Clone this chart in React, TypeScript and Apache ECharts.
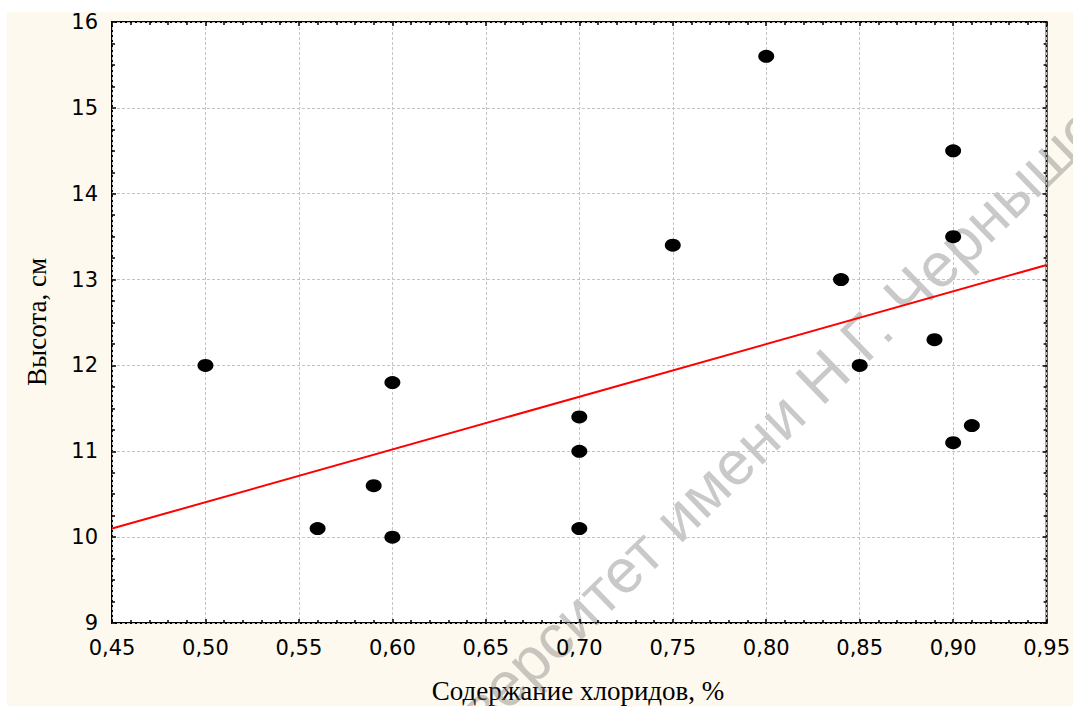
import React, { useEffect, useRef } from "react";
import * as echarts from "echarts";

const chlorides = [0.5, 0.56, 0.59, 0.6, 0.6, 0.7, 0.7, 0.7, 0.75, 0.8, 0.84, 0.85, 0.89, 0.9, 0.9, 0.9, 0.91];
const heights = [12.0, 10.1, 10.6, 11.8, 10.0, 11.4, 11.0, 10.1, 13.4, 15.6, 13.0, 12.0, 12.3, 14.5, 13.5, 11.1, 11.3];
const fitX = [0.45, 0.95];
const fitY = [10.1, 13.17];

const xTitle = "Содержание хлоридов, %";
const yTitle = "Высота, см";
const watermarkLeft = "университет ";
const watermarkRight = "имени Н.Г. Чернышевского";

export default function App() {
  const ref = useRef<HTMLDivElement>(null);
  useEffect(() => {
    if (!ref.current) return;
    const chart = echarts.init(ref.current, null, { renderer: "svg" });
    const tickFont = { fontFamily: "DejaVu Sans", fontSize: 21, color: "#000" };
    const xBase = {
      type: "value",
      min: 0.45,
      max: 0.95,
      interval: 0.05,
      axisLine: { show: false },
      axisTick: { show: true, inside: true, length: 4, lineStyle: { color: "#000", width: 1.5 } },
      minorTick: { show: true, splitNumber: 5, length: 3, lineStyle: { color: "#000", width: 1.5 } },
    };
    const yBase = {
      type: "value",
      min: 9,
      max: 16,
      interval: 1,
      axisLine: { show: false },
      axisTick: { show: true, inside: true, length: 4, lineStyle: { color: "#000", width: 1.5 } },
      minorTick: { show: true, splitNumber: 4, length: 3, lineStyle: { color: "#000", width: 1.5 } },
    };
    chart.setOption({
      animation: false,
      backgroundColor: "transparent",
      grid: {
        left: 112,
        top: 22,
        right: 23,
        bottom: 83,
        show: true,
        backgroundColor: "#fff",
        borderColor: "#000",
        borderWidth: 2,
      },
      xAxis: [
        {
          ...xBase,
          position: "bottom",
          axisLabel: {
            ...tickFont,
            margin: 14,
            formatter: (v: number) => v.toFixed(2).replace(".", ","),
          },
          splitLine: { show: true, lineStyle: { color: "#c4c4c4", type: [3, 2], width: 1 } },
        },
        {
          ...xBase,
          position: "top",
          axisLabel: { show: false },
          splitLine: { show: false },
        },
      ],
      yAxis: [
        {
          ...yBase,
          position: "left",
          axisLabel: { ...tickFont, margin: 14 },
          splitLine: { show: true, lineStyle: { color: "#c4c4c4", type: [3, 2], width: 1 } },
        },
        {
          ...yBase,
          position: "right",
          axisLabel: { show: false },
          splitLine: { show: false },
        },
      ],
      series: [
        {
          type: "line",
          data: fitX.map((x, i) => [x, fitY[i]]),
          symbol: "none",
          lineStyle: { color: "#ff0000", width: 2 },
          z: 2,
        },
        {
          type: "scatter",
          data: chlorides.map((x, i) => [x, heights[i]]),
          symbol: "circle",
          symbolSize: [16, 13],
          itemStyle: { color: "#000", opacity: 1 },
          z: 3,
        },
      ],
      graphic: [
        {
          type: "text",
          x: 578,
          y: 691,
          style: {
            text: xTitle,
            fontFamily: "Liberation Serif",
            fontSize: 27,
            fill: "#000",
            align: "center",
            verticalAlign: "middle",
          },
        },
        {
          type: "text",
          x: 37,
          y: 322,
          rotation: Math.PI / 2,
          style: {
            text: yTitle,
            fontFamily: "Liberation Serif",
            fontSize: 27,
            fill: "#000",
            align: "center",
            verticalAlign: "middle",
          },
        },
        {
          type: "group",
          x: 686,
          y: 552,
          rotation: 0.77,
          silent: true,
          z: 100,
          children: [
            {
              type: "text",
              x: 0,
              y: 0,
              style: {
                text: watermarkLeft,
                fontFamily: "Liberation Sans",
                fontSize: 62,
                fill: "rgba(120,120,120,0.4)",
                align: "right",
                verticalAlign: "bottom",
              },
            },
            {
              type: "text",
              x: 0,
              y: 0,
              style: {
                text: watermarkRight,
                fontFamily: "Liberation Sans",
                fontSize: 62,
                fill: "rgba(120,120,120,0.4)",
                align: "left",
                verticalAlign: "bottom",
              },
            },
          ],
        },
      ],
    });
    return () => chart.dispose();
  }, []);
  return (
    <div style={{ position: "fixed", left: 0, top: 0, width: 1073, height: 706, background: "#fff", overflow: "hidden" }}>
      <div style={{ position: "absolute", left: 7, top: 12, right: 0, bottom: 0, background: "#fdf9ef" }} />
      <div ref={ref} style={{ position: "absolute", left: 0, top: 0, width: 1073, height: 706 }} />
    </div>
  );
}
